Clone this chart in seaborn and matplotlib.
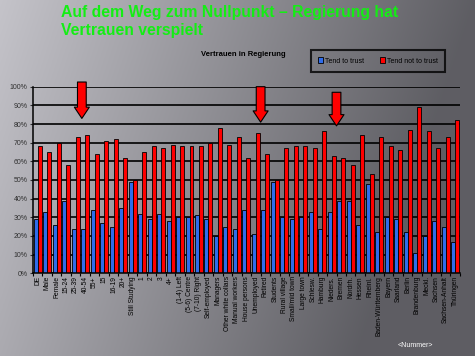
import numpy as np
import pandas as pd
import seaborn as sns
from matplotlib import pyplot as plt
from matplotlib.ticker import FuncFormatter

# Vertrauen in Regierung - Anteile in %
kategorien = ["DE", "Male", "Female", "15-24", "25-39", "40-54", "55+", "15", "16-19", "20+",
              "Still Studying", "1", "2", "3", "4+", "(1-4) Left", "(5-6) Centre", "(7-10) Right",
              "Self-employed", "Managers", "Other white collars", "Manual workers", "House persons",
              "Unemployed", "Retired", "Students", "Rural village", "Small/mid town", "Large town",
              "Schlesw.", "Hamburg", "Nieders.", "Bremen", "Nordrh.", "Hessen", "Rheinl.",
              "Baden-Württemberg", "Bayern", "Saarland", "Berlin", "Brandenburg", "Meckl.",
              "Sachsen", "Sachsen-Anhalt", "Thüringen"]
tend_to_trust = [29, 33, 26, 39, 24, 24, 34, 27, 25, 35, 49, 32, 29, 32, 28, 30, 30, 31, 29, 20,
                 25, 24, 34, 21, 34, 49, 30, 29, 30, 33, 24, 33, 39, 39, 26, 48, 22, 30, 29, 22,
                 11, 20, 28, 25, 17]
tend_not_to_trust = [68, 65, 70, 58, 73, 74, 64, 71, 72, 62, 50, 65, 68, 67, 69, 68, 68, 68, 70, 78,
                     69, 73, 62, 75, 64, 50, 67, 68, 68, 67, 76, 63, 62, 58, 74, 53, 73, 68, 66, 77,
                     89, 76, 67, 73, 82]
serien = ["Tend to trust", "Tend not to trust"]
farben = ["#2f6cea", "#ff0000"]
# Pfeile: Kategorie-Position, Spitze, Ende (in %)
pfeile = [(4.65, 83, 102.5), (23.5, 81, 100), (31.5, 79, 97)]

df = pd.DataFrame({"Kategorie": kategorien * 2,
                   "Serie": [serien[0]] * len(kategorien) + [serien[1]] * len(kategorien),
                   "Wert": tend_to_trust + tend_not_to_trust})

plt.rcParams["font.family"] = ["Liberation Sans", "DejaVu Sans"]

fig = plt.figure(figsize=(4.75, 3.56), dpi=100)

# Hintergrund mit Verlauf
bg = fig.add_axes([0, 0, 1, 1], zorder=-5)
xx, yy = np.meshgrid(np.linspace(0, 1, 300), np.linspace(0, 1, 220))
v = 0.77 - 0.40 * np.clip(xx + 0.25 * yy, 0, 1.1)
v = np.clip(v, 0.37, 0.77)
img = np.dstack([v, v * 0.995, v + 0.02])
bg.imshow(np.clip(img, 0, 1), aspect="auto", extent=[0, 1, 0, 1])
bg.axis("off")

ax = fig.add_axes([0.0695, 0.2323, 0.8985, 0.5242])
ax.patch.set_alpha(0)
sns.barplot(data=df, x="Kategorie", y="Wert", hue="Serie", palette=farben, width=0.84,
            edgecolor="black", linewidth=0.6, saturation=1, ax=ax)

ax.set_ylim(0, 100)
ax.set_xlim(-0.5, len(kategorien) - 0.5)
ax.set_yticks(range(0, 101, 10))
ax.yaxis.set_major_formatter(FuncFormatter(lambda y, p: "%d%%" % y))
ax.grid(axis="y", color="black", linewidth=1.2)
ax.set_axisbelow(True)
ax.set_xlabel("")
ax.set_ylabel("")
for s in ["top", "right"]:
    ax.spines[s].set_visible(False)
ax.spines["left"].set_linewidth(1.1)
ax.spines["bottom"].set_linewidth(1.1)
ax.tick_params(axis="y", labelsize=5, length=2.5, width=0.8, pad=1.5, colors="#303030")
ax.tick_params(axis="x", labelsize=4.8, length=0, pad=2, rotation=90)
ax.set_xticks(np.arange(-0.5, len(kategorien), 1), minor=True)
ax.tick_params(axis="x", which="minor", length=2.5, width=0.8)

for x, tip, top in pfeile:
    ax.annotate("", xy=(x, tip), xytext=(x, top), annotation_clip=False,
                arrowprops=dict(arrowstyle="simple,head_length=0.9,head_width=1.2,tail_width=0.7",
                                fc="red", ec="black", lw=0.8, mutation_scale=9,
                                shrinkA=0, shrinkB=0))

handles, labels = ax.get_legend_handles_labels()
leg = ax.legend(handles, labels, ncol=2, loc="center", bbox_to_anchor=(0.659, 0.792, 0.274, 0.073),
                bbox_transform=fig.transFigure, fontsize=5, frameon=True, fancybox=False,
                handlelength=0.7, handleheight=0.9, handletextpad=0.3, columnspacing=2.2,
                borderpad=1.1)
leg.get_frame().set_edgecolor("black")
leg.get_frame().set_linewidth(1.5)
leg.get_frame().set_facecolor("none")

fig.text(0.128, 0.985, "Auf dem Weg zum Nullpunkt – Regierung hat\nVertrauen verspielt",
         ha="left", va="top", color="#14ee14", fontsize=11.3, fontweight="bold", linespacing=1.25)
fig.text(0.513, 0.848, "Vertrauen in Regierung", ha="center", va="center",
         fontsize=5.5, fontweight="bold", color="black")
fig.text(0.875, 0.03, "<Nummer>", ha="center", va="center", fontsize=5, color="white")

plt.savefig("out.png", dpi=100)
